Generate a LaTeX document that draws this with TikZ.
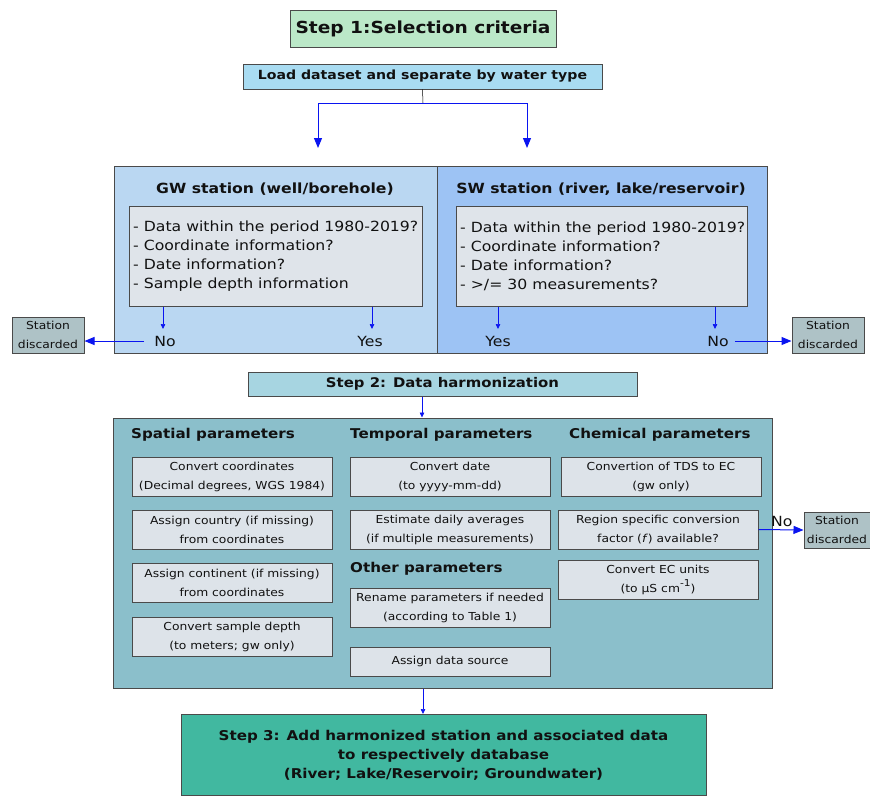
\documentclass[tikz,border=0pt]{standalone}
\usepackage{fontspec}
\setmainfont{DejaVu Sans}[FakeStretch=1.12]
\usetikzlibrary{arrows.meta}
\definecolor{bord}{HTML}{4A4A4A}
\definecolor{txt}{HTML}{111111}
\definecolor{stepone}{HTML}{BBE8C8}
\definecolor{loadc}{HTML}{A9DCF2}
\definecolor{gwc}{HTML}{BAD7F2}
\definecolor{swc}{HTML}{9DC3F4}
\definecolor{listc}{HTML}{DFE4EA}
\definecolor{discc}{HTML}{AEC2C6}
\definecolor{steptwo}{HTML}{A7D5E1}
\definecolor{harmc}{HTML}{8BBFCB}
\definecolor{subc}{HTML}{DDE3E9}
\definecolor{stepthree}{HTML}{41B8A0}
\definecolor{arrc}{HTML}{0A14F0}
\begin{document}
\begin{tikzpicture}[x=1pt,y=-1pt,
  bx/.style={draw=bord, line width=1pt, inner sep=0pt, align=center, text=txt},
  sub/.style={bx, fill=subc, minimum width=200pt, minimum height=39pt, font=\fontsize{11}{19}\selectfont},
  disc/.style={bx, fill=discc, minimum width=72pt, minimum height=36pt, font=\fontsize{11}{19}\selectfont},
  head/.style={anchor=west, inner sep=0pt, text=txt, font=\bfseries\fontsize{13.5}{16}\selectfont},
  lbl/.style={inner sep=0pt, text=txt, font=\fontsize{14}{16}\selectfont},
  arr/.style={draw=arrc, line width=1pt, -{Triangle[length=10pt,width=8pt]}},
  sarr/.style={draw=arrc, line width=0.7pt, -{Triangle[length=5pt,width=4.5pt]}},
  ln/.style={draw=black, line width=0.5pt}]
\useasboundingbox (0,0) rectangle (870,796);

% Step 1
\node[bx, fill=stepone, minimum width=266pt, minimum height=37pt, font=\bfseries\fontsize{16.6}{20}\selectfont] (step1) at (423,28.5) {Step 1:Selection criteria};
\node[bx, fill=loadc, minimum width=359pt, minimum height=25pt, font=\bfseries\fontsize{12.6}{14}\selectfont] (load) at (422.5,76.5) {Load dataset and separate by water type};

\coordinate (split) at (423,103);
\coordinate (tgw) at (318,148);
\coordinate (tsw) at (527,148);
\draw[ln] (load.south) -- (split);
\draw[arr] (split) -| (tgw);
\draw[arr] (split) -| (tsw);

% panels
\node[bx, fill=gwc, minimum width=323pt, minimum height=187pt] (gw) at (275.5,259.5) {};
\node[bx, fill=swc, minimum width=330pt, minimum height=187pt] (sw) at (602,259.5) {};
\node[inner sep=0pt, text=txt, font=\bfseries\fontsize{14}{16}\selectfont] (gwt) at (275,189) {GW station (well/borehole)};
\node[inner sep=0pt, text=txt, font=\bfseries\fontsize{14}{16}\selectfont] (swt) at (601,189) {SW station (river, lake/reservoir)};

\node[bx, fill=listc, minimum width=293pt, minimum height=100pt] (gwl) at (275.5,256) {};
\node[bx, fill=listc, minimum width=291pt, minimum height=100pt] (swl) at (601.5,256) {};
\node[anchor=west, inner sep=0pt, align=left, text=txt, font=\fontsize{14}{19}\selectfont] (gwlt) at (133,256) {- Data within the period 1980-2019?\\- Coordinate information?\\- Date information?\\- Sample depth information};
\node[anchor=west, inner sep=0pt, align=left, text=txt, font=\fontsize{14}{19}\selectfont] (swlt) at (460,256) {- Data within the period 1980-2019?\\- Coordinate information?\\- Date information?\\- >/= 30 measurements?};

\node[lbl] (gwno) at (165,341) {No};
\node[lbl] (gwyes) at (370,341) {Yes};
\node[lbl] (swyes) at (498,341) {Yes};
\node[lbl] (swno) at (718,341) {No};
\coordinate (e1) at (163,329);
\coordinate (e2) at (372,329);
\coordinate (e3) at (498,329);
\coordinate (e4) at (715,329);
\draw[sarr] (gwl.south -| e1) -- (e1);
\draw[sarr] (gwl.south -| e2) -- (e2);
\draw[sarr] (swl.south -| e3) -- (e3);
\draw[sarr] (swl.south -| e4) -- (e4);

\node[disc] (discL) at (48,335) {Station\\discarded};
\node[disc] (discR) at (828,335) {Station\\discarded};
\draw[arr] ([xshift=-10pt]gwno.west) -- (gwno.west -| discL.east);
\draw[arr] ([xshift=6pt]swno.east) -- (swno.east -| discR.west);

% Step 2
\node[bx, fill=steptwo, minimum width=389pt, minimum height=24pt, font=\bfseries\fontsize{13.3}{15}\selectfont] (step2) at (442.5,384) {Step 2: Data harmonization};
\node[bx, fill=harmc, minimum width=659pt, minimum height=270pt] (harm) at (442.5,553) {};
\draw[sarr] (step2.south -| 422,0) -- (harm.north -| 422,0);

\node[head] (hsp) at (131,435) {Spatial parameters};
\node[head] (hte) at (350,435) {Temporal parameters};
\node[head] (hch) at (569,435) {Chemical parameters};
\node[head] (hot) at (350,569) {Other parameters};

\node[sub] (s1) at (232,477) {Convert coordinates\\(Decimal degrees, WGS 1984)};
\node[sub] (s2) at (232,529.5) {Assign country (if missing)\\from coordinates};
\node[sub] (s3) at (232,582.5) {Assign continent (if missing)\\from coordinates};
\node[sub] (s4) at (232,636.5) {Convert sample depth\\(to meters; gw only)};

\node[sub] (t1) at (450,477) {Convert date\\(to yyyy-mm-dd)};
\node[sub] (t2) at (450,529.5) {Estimate daily averages\\(if multiple measurements)};
\node[sub] (o1) at (450,607.5) {Rename parameters if needed\\(according to Table 1)};
\node[sub, minimum height=29pt] (o2) at (450,661.5) {Assign data source};

\node[sub] (c1) at (661,477) {Convertion of TDS to EC\\(gw only)};
\node[sub] (c2) at (658,529.5) {Region specific conversion\\factor (\textit{f}) available?};
\node[sub] (c3) at (658,579.5) {Convert EC units\\(to µS cm\raisebox{0.9ex}{\fontsize{9.5}{10}\selectfont -1})};

\node[disc, minimum width=66pt] (discH) at (837,530) {Station\\discarded};
\draw[arr] (c2.east) -- (discH.west);
\node[lbl, anchor=south west] (hno) at (771,527) {No};

% Step 3
\node[bx, fill=stepthree, minimum width=525pt, minimum height=81pt, font=\bfseries\fontsize{13.5}{19}\selectfont] (step3) at (443.5,755) {Step 3: Add harmonized station and associated data\\to respectively database\\(River; Lake/Reservoir; Groundwater)};
\draw[sarr] (harm.south -| 423,0) -- (step3.north -| 423,0);
\end{tikzpicture}
\end{document}
